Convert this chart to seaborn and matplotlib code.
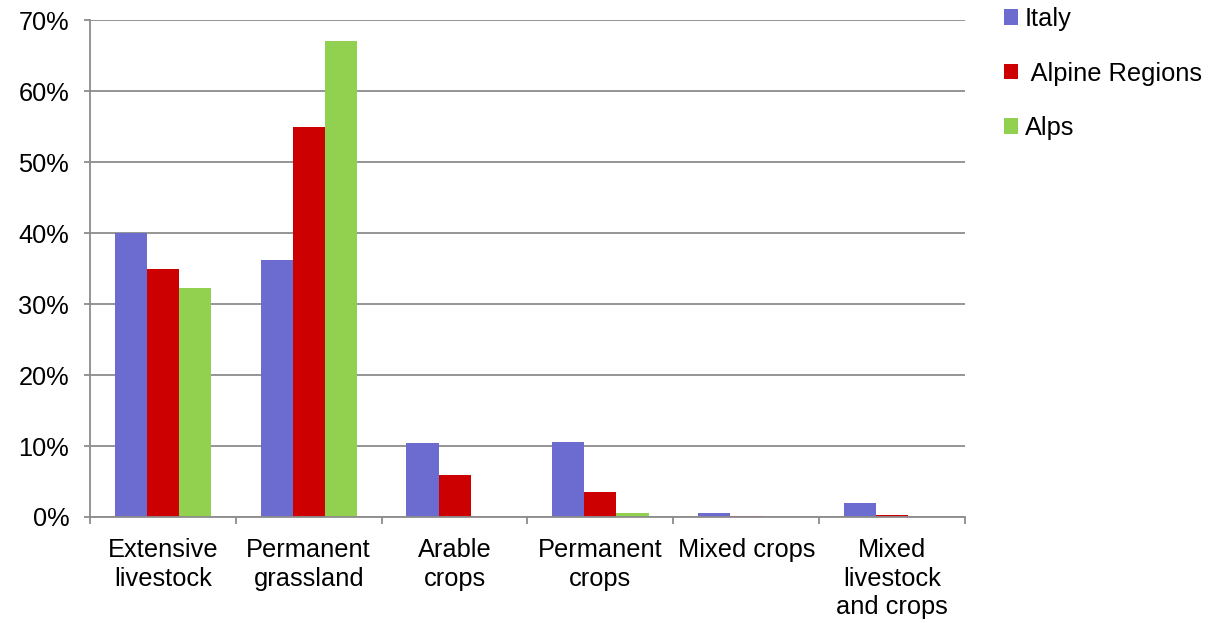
import numpy as np
import pandas as pd
import matplotlib
matplotlib.use("Agg")
import matplotlib.pyplot as plt
import seaborn as sns
from matplotlib.ticker import FixedLocator, FuncFormatter

categories = ["Extensive\nlivestock", "Permanent\ngrassland", "Arable\ncrops",
              "Permanent\ncrops", "Mixed crops", "Mixed\nlivestock\nand crops"]
series = ["Italy", " Alpine Regions", "Alps"]
italy = [40.0, 36.2, 10.4, 10.6, 0.5, 2.0]
alpine_regions = [34.9, 55.0, 5.9, 3.5, 0.2, 0.3]
alps = [32.2, 67.0, 0.0, 0.6, 0.0, 0.0]
colors = ["#6B6BD0", "#CC0000", "#92D050"]

rows = []
for name, vals in zip(series, [italy, alpine_regions, alps]):
    for cat, v in zip(categories, vals):
        rows.append({"category": cat, "series": name, "value": v})
df = pd.DataFrame(rows)

sns.set_style("white")
plt.rcParams["font.family"] = ["Liberation Sans", "DejaVu Sans"]
plt.rcParams["text.color"] = "black"
plt.rcParams["xtick.labelcolor"] = "black"
plt.rcParams["ytick.labelcolor"] = "black"
FS = 18.3

fig = plt.figure(figsize=(12.19, 6.23), dpi=100)
ax = fig.add_axes([90 / 1219, 1 - 517 / 623, (965 - 90) / 1219, (517 - 20) / 623])

sns.barplot(data=df, x="category", y="value", hue="series", palette=colors,
            width=0.66, saturation=1, ax=ax, legend=True, linewidth=0, edgecolor="none")

grid_col = "#8C8C8C"
ax.set_ylim(0, 70)
ax.set_xlim(-0.5, len(categories) - 0.5)
ax.set_yticks(np.arange(0, 71, 10))
ax.yaxis.set_major_formatter(FuncFormatter(lambda v, p: f"{int(v)}%"))
ax.yaxis.grid(True, color=grid_col, linewidth=1.3)
ax.set_axisbelow(True)
ax.set_xlabel("")
ax.set_ylabel("")

for s in ["top", "right"]:
    ax.spines[s].set_visible(False)
for s in ["left", "bottom"]:
    ax.spines[s].set_color(grid_col)
    ax.spines[s].set_linewidth(1.3)

ax.tick_params(axis="y", direction="out", length=4.5, width=1.3, color=grid_col,
               labelsize=FS, pad=10.5, left=True, labelcolor="black")
ax.tick_params(axis="x", which="major", length=0, labelsize=FS, pad=15, labelcolor="black")
for lbl in ax.get_xticklabels():
    lbl.set_linespacing(1.25)
ax.xaxis.set_minor_locator(FixedLocator(np.arange(-0.5, len(categories), 1)))
ax.tick_params(axis="x", which="minor", direction="out", length=5, width=1.3,
               color=grid_col, bottom=True)

handles, labels = ax.get_legend_handles_labels()
ax.legend_.remove()
fig.legend(handles, labels, loc="upper left", bbox_to_anchor=(1004 / 1219, 1 - 7 / 623),
           frameon=False, fontsize=FS, handlelength=0.56, handleheight=0.56,
           handletextpad=0.25, labelspacing=1.2, borderaxespad=0, borderpad=0,
           labelcolor="black")

fig.savefig("out.png", dpi=100)
